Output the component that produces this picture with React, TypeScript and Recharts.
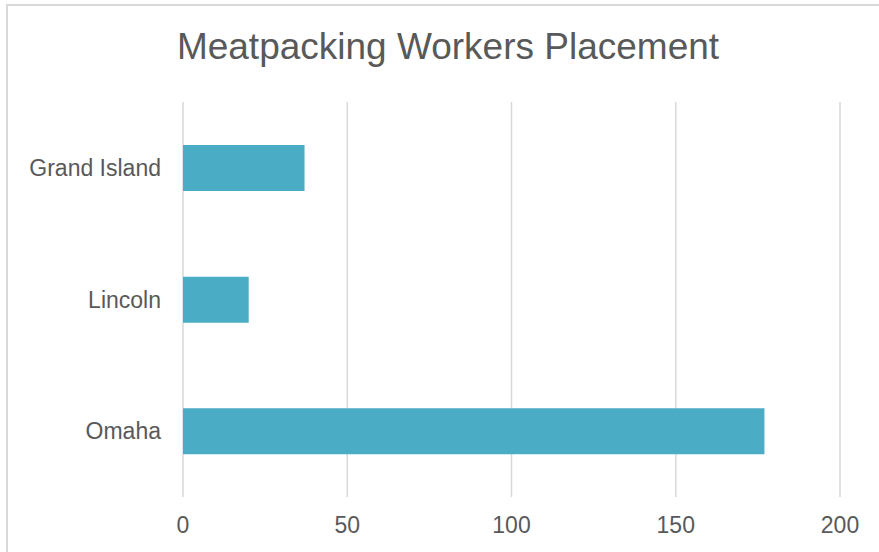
import React from "react";
import { BarChart, Bar, XAxis, YAxis, CartesianGrid } from "recharts";

const categories = ["Grand Island", "Lincoln", "Omaha"];
const placements = [37, 20, 177];
const xTicks = [0, 50, 100, 150, 200];
const chartTitle = "Meatpacking Workers Placement";

const data = categories.map((name, i) => ({ name, value: placements[i] }));

const FONT = '"Liberation Sans", Arial, sans-serif';
const TEXT = "#595959";

export default function App() {
  return (
    <div
      style={{
        position: "fixed",
        left: 0,
        top: 0,
        width: 879,
        height: 552,
        overflow: "hidden",
        background: "#ffffff",
        fontFamily: FONT,
      }}
    >
      <div
        style={{
          position: "absolute",
          left: 6,
          top: 4,
          width: 1000,
          height: 700,
          borderLeft: "2px solid #d9d9d9",
          borderTop: "2px solid #d9d9d9",
        }}
      />
      <div
        style={{
          position: "absolute",
          left: 0,
          top: 28,
          width: 896,
          textAlign: "center",
          fontSize: 37,
          lineHeight: "37px",
          color: TEXT,
          whiteSpace: "nowrap",
        }}
      >
        {chartTitle}
      </div>
      <div style={{ position: "absolute", left: 0, top: 0 }}>
        <BarChart
          width={879}
          height={552}
          data={data}
          layout="vertical"
          margin={{ top: 102, right: 39, bottom: 0, left: 0 }}
        >
          <CartesianGrid horizontal={false} stroke="#d9d9d9" strokeWidth={1.5} />
          <XAxis
            type="number"
            domain={[0, 200]}
            ticks={xTicks}
            height={55}
            axisLine={false}
            tickLine={false}
            tickMargin={14}
            tick={{ fill: TEXT, fontSize: 23, fontFamily: FONT }}
            interval={0}
          />
          <YAxis
            type="category"
            dataKey="name"
            width={183}
            axisLine={false}
            tickLine={false}
            tickMargin={16}
            tick={{ fill: TEXT, fontSize: 23, fontFamily: FONT }}
            interval={0}
          />
          <Bar dataKey="value" fill="#4BACC6" barSize={46} isAnimationActive={false} />
        </BarChart>
      </div>
    </div>
  );
}
